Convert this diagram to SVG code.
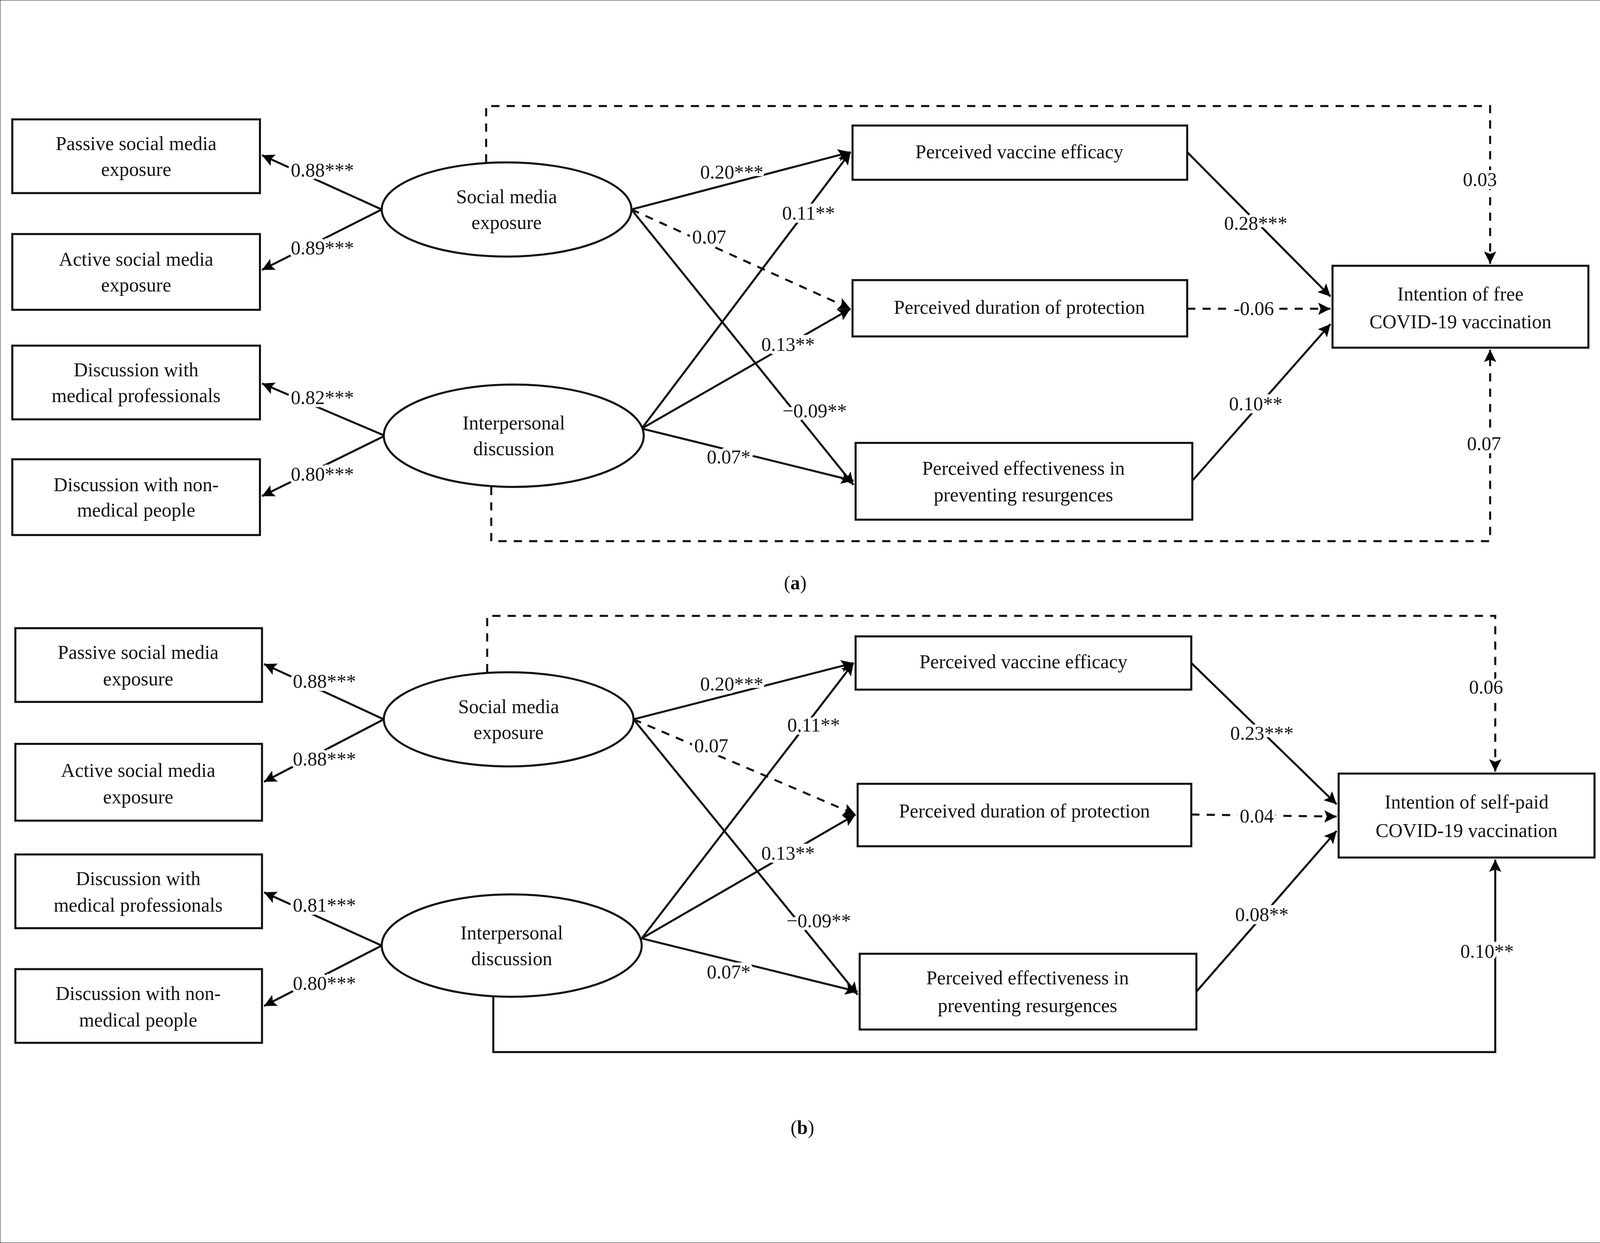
<svg xmlns="http://www.w3.org/2000/svg" width="4839" height="3181" viewBox="0 0 4839 3181">
<defs>
<marker id="ah" viewBox="0 0 10 10" refX="10" refY="5" markerWidth="14" markerHeight="12" orient="auto" markerUnits="userSpaceOnUse"><path d="M0,0 L10,5 L0,10 L2,5 z" fill="#000"/></marker>
<style>
text{font-family:"Liberation Serif","Times New Roman",serif;font-size:19px;fill:#111;text-anchor:middle}
.lb{paint-order:stroke;stroke:#fff;stroke-width:6px}
rect,ellipse{fill:#fff;stroke:#111;stroke-width:2}
line,polyline{stroke:#111;stroke-width:2;fill:none}
.d{stroke-dasharray:8,7}
.a{marker-end:url(#ah)}
</style>
</defs>
<rect width="4839" height="3181" fill="#fff"/>
<g transform="translate(0,240) scale(2.62)">
<g id="connectors">
<polyline class="d a" points="475,67 475,12 1456,12 1456,166"/>
<polyline class="d a" points="480,384 480,437 1456,437 1456,250"/>
<line class="a" x1="373" y1="113" x2="256" y2="60"/>
<line class="a" x1="373" y1="113" x2="256" y2="172"/>
<line class="a" x1="376" y1="334" x2="256" y2="283"/>
<line class="a" x1="376" y1="334" x2="256" y2="393"/>
<line class="a" x1="617" y1="113" x2="831" y2="57"/>
<line class="d a" x1="617" y1="113" x2="831" y2="210"/>
<line class="a" x1="617" y1="113" x2="834" y2="382"/>
<line class="a" x1="627" y1="327" x2="831" y2="57"/>
<line class="a" x1="627" y1="327" x2="831" y2="210"/>
<line class="a" x1="627" y1="327" x2="834" y2="378"/>
<line class="a" x1="1160" y1="57" x2="1300" y2="198"/>
<line class="d a" x1="1160" y1="210" x2="1300" y2="210"/>
<line class="a" x1="1165" y1="378" x2="1300" y2="225"/>
<polyline class="d a" points="476,565 476,510 1461,510 1461,662"/>
<polyline class="a" points="482,882 482,936 1461,936 1461,748"/>
<line class="a" x1="375" y1="611" x2="258" y2="557"/>
<line class="a" x1="375" y1="611" x2="258" y2="672"/>
<line class="a" x1="373" y1="832" x2="258" y2="780"/>
<line class="a" x1="373" y1="832" x2="258" y2="891"/>
<line class="a" x1="619" y1="611" x2="834" y2="556"/>
<line class="d a" x1="619" y1="611" x2="836" y2="704"/>
<line class="a" x1="619" y1="611" x2="838" y2="880"/>
<line class="a" x1="627" y1="825" x2="834" y2="556"/>
<line class="a" x1="627" y1="825" x2="836" y2="704"/>
<line class="a" x1="627" y1="825" x2="838" y2="877"/>
<line class="a" x1="1164" y1="556" x2="1306" y2="694"/>
<line class="d a" x1="1164" y1="704" x2="1306" y2="706"/>
<line class="a" x1="1169" y1="877" x2="1306" y2="720"/>
</g>
<g id="labels">
<text class="lb" x="315" y="81">0.88***</text>
<text class="lb" x="315" y="157">0.89***</text>
<text class="lb" x="315" y="303">0.82***</text>
<text class="lb" x="315" y="378">0.80***</text>
<text class="lb" x="715" y="83">0.20***</text>
<text class="lb" x="693" y="146">0.07</text>
<text class="lb" x="790" y="123">0.11**</text>
<text class="lb" x="770" y="251">0.13**</text>
<text class="lb" x="796" y="316">−0.09**</text>
<text class="lb" x="712" y="361">0.07*</text>
<text class="lb" x="1227" y="133">0.28***</text>
<text class="lb" x="1225" y="216">-0.06</text>
<text class="lb" x="1227" y="309">0.10**</text>
<text class="lb" x="1446" y="90">0.03</text>
<text class="lb" x="1450" y="348">0.07</text>
<text x="777" y="484">(<tspan font-weight="bold">a</tspan>)</text>
<text class="lb" x="317" y="580">0.88***</text>
<text class="lb" x="317" y="656">0.88***</text>
<text class="lb" x="317" y="799">0.81***</text>
<text class="lb" x="317" y="875">0.80***</text>
<text class="lb" x="715" y="583">0.20***</text>
<text class="lb" x="695" y="643">0.07</text>
<text class="lb" x="795" y="623">0.11**</text>
<text class="lb" x="770" y="748">0.13**</text>
<text class="lb" x="800" y="814">−0.09**</text>
<text class="lb" x="712" y="864">0.07*</text>
<text class="lb" x="1233" y="631">0.23***</text>
<text class="lb" x="1228" y="712">0.04</text>
<text class="lb" x="1233" y="808">0.08**</text>
<text class="lb" x="1452" y="586">0.06</text>
<text class="lb" x="1453" y="844">0.10**</text>
<text x="784" y="1016">(<tspan font-weight="bold">b</tspan>)</text>
</g>
<g id="a_passive"><rect x="12" y="25" width="242" height="72"/><text x="133" y="55">Passive social media</text><text x="133" y="80">exposure</text></g>
<g id="a_active"><rect x="12" y="137" width="242" height="74"/><text x="133" y="168">Active social media</text><text x="133" y="193">exposure</text></g>
<g id="a_dmed"><rect x="12" y="246" width="242" height="72"/><text x="133" y="276">Discussion with</text><text x="133" y="301">medical professionals</text></g>
<g id="a_dnon"><rect x="12" y="357" width="242" height="74"/><text x="133" y="388">Discussion with non-</text><text x="133" y="413">medical people</text></g>
<g id="a_sme"><ellipse cx="495" cy="113" rx="122" ry="46"/><text x="495" y="107">Social media</text><text x="495" y="132">exposure</text></g>
<g id="a_id"><ellipse cx="502" cy="334" rx="127" ry="50"/><text x="502" y="328">Interpersonal</text><text x="502" y="353">discussion</text></g>
<g id="a_pve"><rect x="833" y="31" width="327" height="53"/><text x="996" y="63">Perceived vaccine efficacy</text></g>
<g id="a_pdp"><rect x="833" y="182" width="327" height="55"/><text x="996" y="215">Perceived duration of protection</text></g>
<g id="a_per"><rect x="836" y="341" width="329" height="75"/><text x="1000" y="372">Perceived effectiveness in</text><text x="1000" y="398">preventing resurgences</text></g>
<g id="a_int"><rect x="1302" y="168" width="250" height="80"/><text x="1427" y="202">Intention of free</text><text x="1427" y="229">COVID-19 vaccination</text></g>
<g id="b_passive"><rect x="15" y="522" width="241" height="72"/><text x="135" y="552">Passive social media</text><text x="135" y="578">exposure</text></g>
<g id="b_active"><rect x="15" y="635" width="241" height="75"/><text x="135" y="667">Active social media</text><text x="135" y="693">exposure</text></g>
<g id="b_dmed"><rect x="15" y="743" width="241" height="72"/><text x="135" y="773">Discussion with</text><text x="135" y="799">medical professionals</text></g>
<g id="b_dnon"><rect x="15" y="855" width="241" height="72"/><text x="135" y="885">Discussion with non-</text><text x="135" y="911">medical people</text></g>
<g id="b_sme"><ellipse cx="497" cy="611" rx="122" ry="46"/><text x="497" y="605">Social media</text><text x="497" y="630">exposure</text></g>
<g id="b_id"><ellipse cx="500" cy="832" rx="127" ry="50"/><text x="500" y="826">Interpersonal</text><text x="500" y="851">discussion</text></g>
<g id="b_pve"><rect x="836" y="530" width="328" height="52"/><text x="1000" y="561">Perceived vaccine efficacy</text></g>
<g id="b_pdp"><rect x="838" y="674" width="326" height="61"/><text x="1001" y="707">Perceived duration of protection</text></g>
<g id="b_per"><rect x="840" y="840" width="329" height="74"/><text x="1004" y="870">Perceived effectiveness in</text><text x="1004" y="897">preventing resurgences</text></g>
<g id="b_int"><rect x="1308" y="664" width="250" height="82"/><text x="1433" y="698">Intention of self-paid</text><text x="1433" y="726">COVID-19 vaccination</text></g>
</g>
</svg>
